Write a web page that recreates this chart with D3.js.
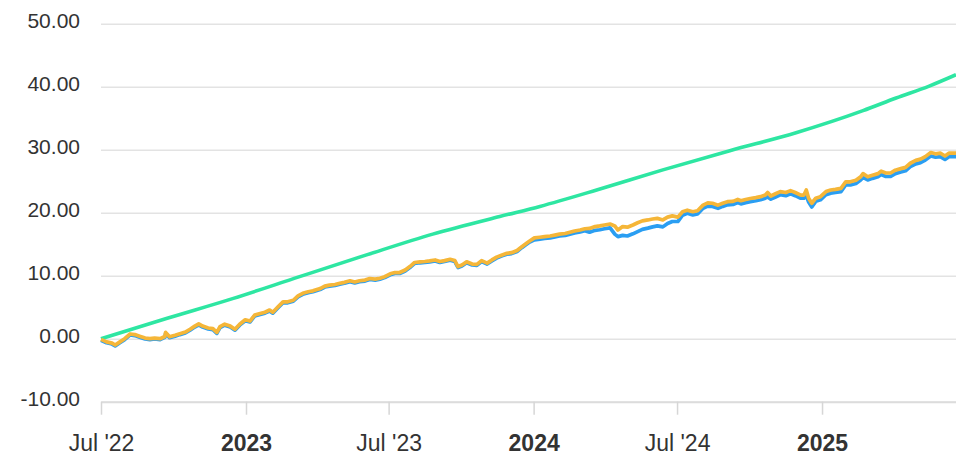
<!DOCTYPE html>
<html>
<head>
<meta charset="utf-8">
<script src="https://cdn.jsdelivr.net/npm/d3@7/dist/d3.min.js"></script>
<style>
  html, body { margin: 0; padding: 0; background: #fff; }
  svg { display: block; font-family: "Liberation Sans", Arial, sans-serif; }
</style>
</head>
<body>
<div id="chart"></div>
<script>
// sample dates for the two noisy series
var dates = [
  "2022-07-01","2022-07-08","2022-07-15","2022-07-19","2022-07-25","2022-07-31","2022-08-07","2022-08-13","2022-08-19","2022-08-26",
  "2022-09-01","2022-09-07","2022-09-14","2022-09-20","2022-09-21","2022-09-26","2022-10-03","2022-10-09","2022-10-16","2022-10-22",
  "2022-10-28","2022-11-02","2022-11-07","2022-11-14","2022-11-20","2022-11-25","2022-11-29","2022-12-05","2022-12-12","2022-12-18",
  "2022-12-24","2022-12-31","2023-01-06","2023-01-12","2023-01-19","2023-01-25","2023-01-31","2023-02-04","2023-02-11","2023-02-17",
  "2023-02-23","2023-03-02","2023-03-08","2023-03-14","2023-03-21","2023-03-27","2023-04-02","2023-04-05","2023-04-11","2023-04-17",
  "2023-04-24","2023-04-30","2023-05-06","2023-05-13","2023-05-19","2023-05-25","2023-06-01","2023-06-07","2023-06-14","2023-06-20",
  "2023-06-26","2023-07-03","2023-07-09","2023-07-15","2023-07-22","2023-07-28","2023-08-03","2023-08-10","2023-08-16","2023-08-22",
  "2023-08-29","2023-09-04","2023-09-10","2023-09-17","2023-09-23","2023-09-27","2023-10-02","2023-10-08","2023-10-15","2023-10-21",
  "2023-10-27","2023-11-03","2023-11-09","2023-11-15","2023-11-22","2023-11-28","2023-12-04","2023-12-11","2023-12-17","2023-12-23",
  "2023-12-27","2024-01-02","2024-01-09","2024-01-15","2024-01-22","2024-01-28","2024-02-03","2024-02-10","2024-02-16","2024-02-22",
  "2024-02-29","2024-03-06","2024-03-12","2024-03-19","2024-03-25","2024-03-31","2024-04-07","2024-04-13","2024-04-17","2024-04-23",
  "2024-04-29","2024-05-06","2024-05-12","2024-05-18","2024-05-25","2024-05-31","2024-06-06","2024-06-13","2024-06-19","2024-06-25",
  "2024-07-02","2024-07-08","2024-07-14","2024-07-21","2024-07-27","2024-08-03","2024-08-09","2024-08-15","2024-08-22","2024-08-28",
  "2024-09-03","2024-09-10","2024-09-16","2024-09-20","2024-09-26","2024-10-02","2024-10-09","2024-10-15","2024-10-21","2024-10-24",
  "2024-10-28","2024-11-03","2024-11-09","2024-11-16","2024-11-22","2024-11-28","2024-12-05","2024-12-09","2024-12-12","2024-12-15",
  "2024-12-19","2024-12-24","2024-12-30","2025-01-06","2025-01-12","2025-01-18","2025-01-25","2025-01-31","2025-02-06","2025-02-13",
  "2025-02-19","2025-02-22","2025-02-28","2025-03-06","2025-03-13","2025-03-17","2025-03-23","2025-03-29","2025-04-04","2025-04-11",
  "2025-04-17","2025-04-23","2025-04-30","2025-05-06","2025-05-12","2025-05-19","2025-05-25","2025-05-31","2025-06-06","2025-06-11",
  "2025-06-20"
];

var orangeValues = [
  -0.1,-0.5,-0.7,-1.0,-0.5,0.0,0.75,0.65,0.4,0.1,
  0.0,0.1,0.0,0.35,1.0,0.3,0.55,0.8,1.05,1.5,
  2.0,2.35,2.0,1.7,1.6,1.0,1.9,2.3,2.0,1.5,
  2.3,3.0,2.8,3.75,4.0,4.2,4.55,4.2,5.1,5.85,
  5.85,6.1,6.8,7.2,7.45,7.6,7.85,7.95,8.35,8.5,
  8.6,8.8,8.95,9.2,9.0,9.2,9.3,9.55,9.45,9.6,
  9.85,10.3,10.5,10.5,10.9,11.45,12.1,12.2,12.25,12.35,
  12.5,12.25,12.4,12.6,12.4,11.45,11.7,12.2,11.85,11.8,
  12.4,12.0,12.5,12.95,13.3,13.55,13.65,14.0,14.6,15.15,
  15.5,16.0,16.1,16.2,16.3,16.45,16.6,16.7,16.9,17.1,
  17.25,17.45,17.5,17.8,17.9,18.05,18.2,17.9,17.25,17.8,
  17.7,18.05,18.4,18.7,18.85,19.0,19.1,18.85,19.3,19.5,
  19.3,20.15,20.4,20.15,20.3,21.2,21.55,21.5,21.2,21.5,
  21.75,21.8,22.1,21.9,22.1,22.25,22.4,22.55,22.8,23.2,
  22.65,23.0,23.35,23.2,23.5,23.2,22.8,22.8,23.6,22.3,
  21.5,22.3,22.55,23.35,23.6,23.7,23.85,24.9,24.9,25.15,
  25.7,26.2,25.7,25.95,26.2,26.6,26.3,26.3,26.75,27.0,
  27.2,27.85,28.3,28.5,28.9,29.55,29.35,29.45,29.0,29.45,
  29.45
];

var blueValues = [
  -0.25,-0.65,-0.85,-1.15,-0.65,-0.15,0.6,0.5,0.25,-0.05,
  -0.15,-0.05,-0.15,0.2,0.85,0.15,0.4,0.65,0.9,1.35,
  1.85,2.2,1.85,1.55,1.45,0.85,1.75,2.15,1.85,1.35,
  2.15,2.85,2.65,3.6,3.85,4.05,4.4,4.05,4.95,5.7,
  5.7,5.95,6.65,7.05,7.3,7.45,7.7,7.8,8.2,8.35,
  8.45,8.65,8.8,9.05,8.85,9.05,9.15,9.4,9.3,9.45,
  9.7,10.15,10.35,10.35,10.75,11.3,11.95,12.05,12.1,12.2,
  12.35,12.1,12.25,12.45,12.25,11.3,11.55,12.05,11.7,11.65,
  12.25,11.85,12.35,12.8,13.15,13.4,13.5,13.85,14.45,15.0,
  15.35,15.7,15.8,15.9,16.0,16.15,16.3,16.4,16.6,16.8,
  16.95,17.15,16.9,17.2,17.3,17.45,17.6,16.6,16.2,16.4,
  16.3,16.65,17.0,17.35,17.55,17.75,17.9,17.75,18.3,18.6,
  18.6,19.6,19.9,19.65,19.8,20.7,21.05,21.0,20.7,21.0,
  21.25,21.3,21.6,21.4,21.6,21.75,21.9,22.05,22.3,22.5,
  22.15,22.5,22.85,22.7,23.0,22.7,22.3,22.3,22.7,21.7,
  20.9,21.8,22.05,22.85,23.1,23.2,23.35,24.4,24.4,24.65,
  25.2,25.6,25.2,25.45,25.7,26.05,25.75,25.75,26.2,26.45,
  26.65,27.3,27.75,27.95,28.35,29.0,28.8,28.9,28.45,28.9,
  28.9
];

// smooth benchmark line
var greenDates = [
  "2022-07-01","2022-09-22","2022-12-16","2023-03-10","2023-06-03","2023-08-26","2023-11-19","2024-01-09",
  "2024-03-21","2024-06-13","2024-09-06","2024-11-29","2025-02-22","2025-04-05","2025-05-17","2025-06-20"
];
var greenValues = [0, 3.2, 6.4, 9.85, 13.3, 16.6, 19.4, 21.0, 23.6, 26.8, 29.85, 32.7, 36.2, 38.2, 40.1, 41.9];

var yTicks = [-10, 0, 10, 20, 30, 40, 50];
var xTicks = ["2022-07-01", "2023-01-01", "2023-07-01", "2024-01-01", "2024-07-01", "2025-01-01"];
var xTickLabels = ["Jul '22", "2023", "Jul '23", "2024", "Jul '24", "2025"];

(function () {
  'use strict';

  var width = 956, height = 457;
  var plotLeft = 101, plotRight = 956, plotTop = 23.7, plotBottom = 401.7;

  var parse = d3.utcParse("%Y-%m-%d");

  var svg = d3.select("#chart").append("svg")
    .attr("width", width)
    .attr("height", height);

  var x = d3.scaleUtc()
    .domain([parse("2022-07-01"), parse("2025-06-20")])
    .range([plotLeft, plotRight]);

  var y = d3.scaleLinear()
    .domain([-10, 50])
    .range([plotBottom, plotTop]);

  // grid + y labels (plain hyphen for the minus, like the original)
  var yAxis = svg.append("g")
    .attr("transform", "translate(" + plotLeft + ",0)")
    .call(d3.axisLeft(y)
      .tickValues(yTicks)
      .tickSize(-(plotRight - plotLeft))
      .tickPadding(21)
      .tickFormat(function(d) { return d.toFixed(2); }));
  yAxis.select(".domain").remove();
  yAxis.selectAll(".tick line")
    .attr("stroke", "#e3e3e3")
    .attr("stroke-width", 1.6);
  yAxis.selectAll(".tick text")
    .attr("fill", "#333")
    .attr("font-size", 21)
    .attr("dy", "0.17em");

  // x axis
  var xAxis = svg.append("g")
    .attr("transform", "translate(0," + plotBottom + ")")
    .call(d3.axisBottom(x)
      .tickValues(xTicks.map(parse))
      .tickSize(13)
      .tickSizeOuter(0)
      .tickFormat(function(d, i) { return xTickLabels[i]; }));
  xAxis.select(".domain")
    .attr("stroke", "#dcdcdc")
    .attr("stroke-width", 2);
  xAxis.selectAll(".tick line")
    .attr("stroke", "#d6d6d6")
    .attr("stroke-width", 1.5);
  xAxis.selectAll(".tick text")
    .attr("fill", "#333")
    .attr("font-size", 23)
    .attr("y", 49.5)
    .attr("dy", "0")
    .attr("font-weight", function(d, i) { return xTickLabels[i].indexOf("'") < 0 ? "bold" : "normal"; });

  var line = d3.line()
    .x(function(d) { return x(d.date); })
    .y(function(d) { return y(d.value); });

  var greenData = greenDates.map(function(d, i) { return { date: parse(d), value: greenValues[i] }; });
  var blueData = dates.map(function(d, i) { return { date: parse(d), value: blueValues[i] }; });
  var orangeData = dates.map(function(d, i) { return { date: parse(d), value: orangeValues[i] }; });

  svg.append("path")
    .datum(greenData)
    .attr("fill", "none")
    .attr("stroke", "#2ee6a2")
    .attr("stroke-width", 3.6)
    .attr("stroke-linejoin", "round")
    .attr("d", line.curve(d3.curveMonotoneX));

  line.curve(d3.curveLinear);

  svg.append("path")
    .datum(blueData)
    .attr("fill", "none")
    .attr("stroke", "#2a9ef2")
    .attr("stroke-width", 3.7)
    .attr("stroke-linejoin", "round")
    .attr("d", line);

  svg.append("path")
    .datum(orangeData)
    .attr("fill", "none")
    .attr("stroke", "#f5b638")
    .attr("stroke-width", 3.7)
    .attr("stroke-linejoin", "round")
    .attr("d", line);
}());
</script>
</body>
</html>
